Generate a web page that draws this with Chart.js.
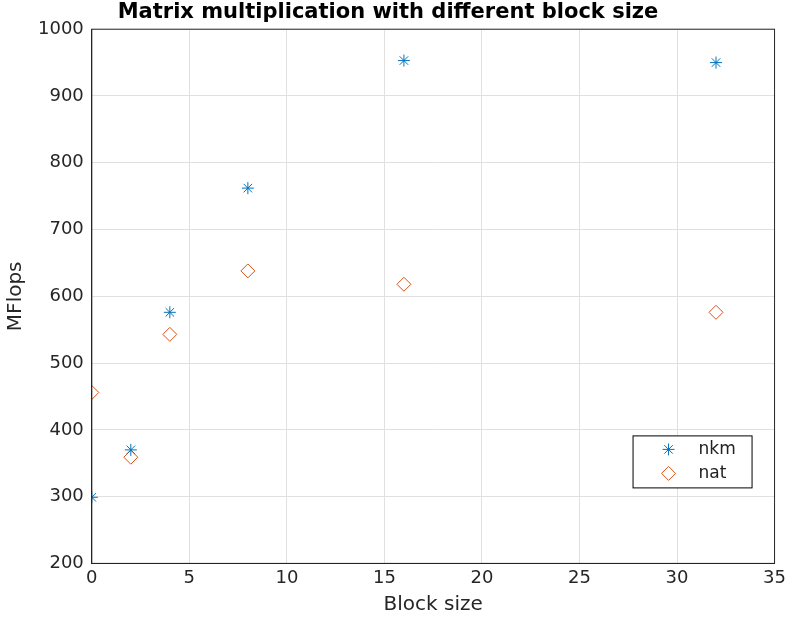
<!DOCTYPE html>
<html>
<head>
<script src="https://cdn.jsdelivr.net/npm/chart.js@4"></script>
<style>
  body { margin: 0; background: #fff; }
  #wrap { width: 790px; height: 621px; }
</style>
</head>
<body>
<div id="wrap"><canvas id="myChart"></canvas></div>
<script>
const blockSizes = [0, 2, 4, 8, 16, 32]
const nkmValues = [299, 370, 576, 762, 953, 950]
const natValues = [456, 359, 543, 638, 618, 576]
const xTicks = [0, 5, 10, 15, 20, 25, 30, 35]
const yTicks = [200, 300, 400, 500, 600, 700, 800, 900, 1000]

const blue = '#0072bd', orange = '#d95319'
const font = 'DejaVu Sans'

const toPoints = (vals) => blockSizes.map((x, i) => ({ x: x, y: vals[i] }))

// legend box inside the plot, bottom right
const boxLegend = {
  id: 'boxLegend',
  afterDraw(chart) {
    const ctx = chart.ctx, a = chart.chartArea
    const w = 119, h = 52
    const x = a.right - 142, y = a.bottom - 128
    ctx.save()
    ctx.fillStyle = '#fff'
    ctx.fillRect(x, y, w, h)
    ctx.strokeStyle = '#000'
    ctx.lineWidth = 1
    ctx.strokeRect(x + 0.5, y + 0.5, w, h)
    ctx.font = '17px ' + font
    ctx.textBaseline = 'middle'
    chart.data.datasets.forEach((ds, i) => {
      const cy = y + 14 + i * 24
      ctx.strokeStyle = ds.borderColor
      ctx.fillStyle = '#fff'
      ctx.lineWidth = 1
      Chart.helpers.drawPoint(ctx, { pointStyle: ds.pointStyle, radius: ds.pointRadius, borderWidth: 1 }, x + 36, cy)
      ctx.fillStyle = '#222'
      ctx.fillText(ds.label, x + 66, cy)
    })
    ctx.restore()
  }
}

new Chart(document.getElementById('myChart'), {
  type: 'scatter',
  data: {
    datasets: [
      { label: 'nkm', data: toPoints(nkmValues), pointStyle: 'star', pointRadius: 6,
        borderColor: blue, backgroundColor: 'transparent', borderWidth: 1 },
      { label: 'nat', data: toPoints(natValues), pointStyle: 'rectRot', pointRadius: 7,
        borderColor: orange, backgroundColor: 'transparent', borderWidth: 1 }
    ]
  },
  options: {
    responsive: true,
    maintainAspectRatio: false,
    animation: false,
    layout: { padding: { right: 14, top: 0, left: 0, bottom: 0 } },
    plugins: {
      legend: { display: false },
      tooltip: { enabled: false },
      title: { display: true, text: 'Matrix multiplication with different block size',
        font: { family: font, size: 21, weight: 'bold' }, color: '#000',
        padding: { top: 0, bottom: 4 } }
    },
    scales: {
      x: {
        type: 'linear', min: 0, max: 35,
        afterBuildTicks: (s) => { s.ticks = xTicks.map(v => ({ value: v })) },
        ticks: { font: { family: font, size: 18 }, color: '#262626', padding: 4,
          callback: (v) => String(v) },
        grid: { color: '#e0e0e0', drawTicks: false },
        border: { color: '#262626' },
        title: { display: true, text: 'Block size', font: { family: font, size: 20 }, color: '#262626', padding: { top: 0 } }
      },
      y: {
        min: 200, max: 1000,
        afterBuildTicks: (s) => { s.ticks = yTicks.map(v => ({ value: v })) },
        ticks: { font: { family: font, size: 18 }, color: '#262626', padding: 8,
          callback: (v) => String(v) },
        grid: { color: '#e0e0e0', drawTicks: false },
        border: { color: '#262626' },
        title: { display: true, text: 'MFlops', font: { family: font, size: 20 }, color: '#262626', padding: { bottom: 2 } }
      }
    }
  },
  plugins: [boxLegend, {
    id: 'frame',
    afterDraw(chart) {
      const ctx = chart.ctx, a = chart.chartArea
      ctx.save()
      ctx.strokeStyle = '#262626'
      ctx.lineWidth = 1
      ctx.strokeRect(a.left, a.top, a.right - a.left, a.bottom - a.top)
      ctx.restore()
    }
  }]
})
</script>
</body>
</html>
